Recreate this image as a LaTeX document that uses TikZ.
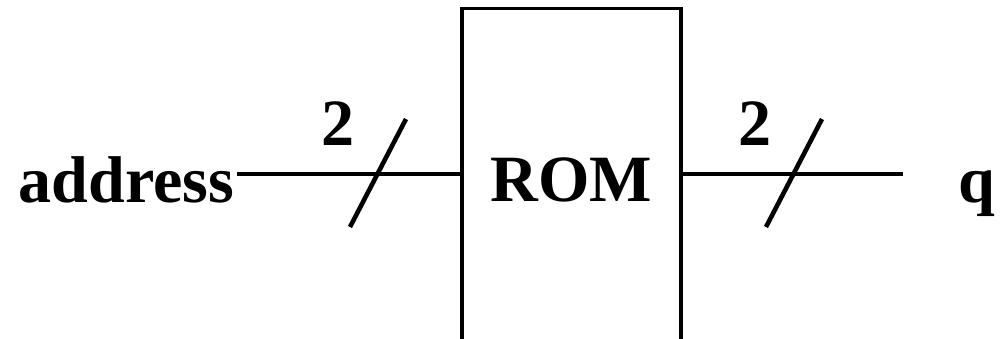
\documentclass[tikz,border=0pt]{standalone}
\usepackage{fontspec}
\setmainfont{Liberation Serif}
\usetikzlibrary{calc}

\begin{document}
\begin{tikzpicture}[x=0.01cm, y=-0.01cm,
    wire/.style={line width=1.3pt, black},
    rombox/.style={rectangle, draw=black, line width=0.95pt, inner sep=0pt, minimum width=2.19cm, minimum height=3.43cm, font=\fontsize{18.8}{22}\selectfont\bfseries},
    sig/.style={inner sep=0pt, font=\fontsize{18.8}{22}\selectfont\bfseries}
]
    \useasboundingbox (0,0) rectangle (1005,338);

    % ROM block, its lower edge runs off the page
    \node[rombox] (rom) at (571.5,180) {ROM};

    % signal names
    \node[sig, anchor=base west, inner xsep=0.02cm] (address) at (16,202) {address};
    \node[sig, anchor=base] (q) at (976.5,202) {q};

    % bus level and loose end of the output bus
    \coordinate (bus) at (0,174);
    \coordinate (qend) at (903,174);

    % buses
    \draw[wire] (address.east |- bus) -- (rom.west |- bus);
    \draw[wire] (rom.east |- bus) -- (qend);

    % bus width marks
    \coordinate (cut_in) at (378,174);
    \coordinate (cut_out) at (794,174);
    \draw[wire] ($(cut_in)+(-28,53)$) -- ($(cut_in)+(28,-55)$);
    \draw[wire] ($(cut_out)+(-28,53)$) -- ($(cut_out)+(28,-55)$);
    \node[sig, anchor=base] (w_in) at ($(cut_in)+(-40,-29)$) {2};
    \node[sig, anchor=base] (w_out) at ($(cut_out)+(-39,-29)$) {2};
\end{tikzpicture}
\end{document}
